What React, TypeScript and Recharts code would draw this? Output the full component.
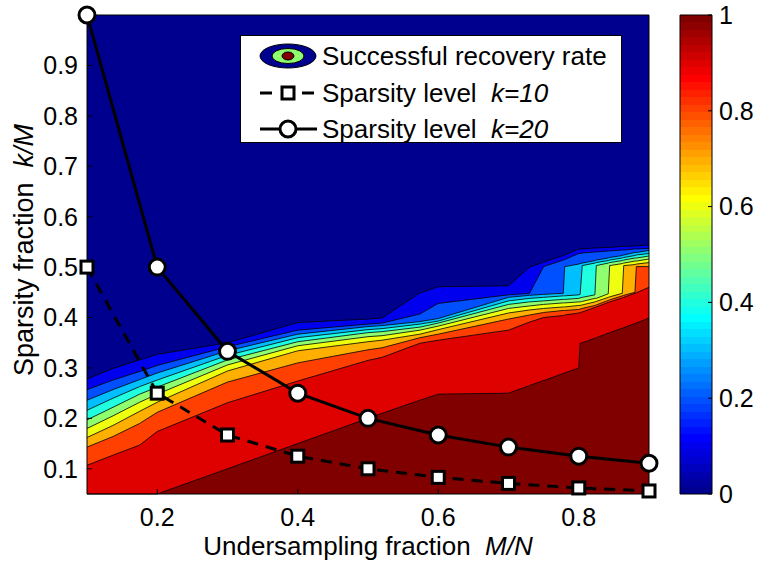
import React from 'react';
import { ComposedChart, Area, Line, XAxis, YAxis, ReferenceLine, BarChart, Bar } from 'recharts';

// undersampling grid M/N and the two sparsity curves k/M
const mnGrid = [0.1, 0.2, 0.3, 0.4, 0.5, 0.6, 0.7, 0.8, 0.9];
const sparsityK10 = [0.5, 0.25, 0.167, 0.125, 0.1, 0.083, 0.071, 0.062, 0.056];
const sparsityK20 = [1.0, 0.5, 0.333, 0.25, 0.2, 0.167, 0.143, 0.125, 0.111];

// contour boundaries (k/M where recovery rate crosses each level), read along M/N
const contourX = [0.1, 0.137, 0.175, 0.2, 0.3, 0.4, 0.5, 0.52, 0.574, 0.6, 0.7, 0.73, 0.75, 0.778, 0.78, 0.8, 0.802, 0.805, 0.823, 0.825, 0.842, 0.844, 0.862, 0.864, 0.88, 0.882, 0.9];
const level01 = [0.278, 0.299, 0.316, 0.327, 0.35, 0.39, 0.397, 0.399, 0.449, 0.461, 0.463, 0.5, 0.51, 0.523, 0.524, 0.536, 0.536, 0.536, 0.538, 0.538, 0.539, 0.539, 0.541, 0.541, 0.542, 0.542, 0.544];
const level02 = [0.257, 0.276, 0.293, 0.305, 0.342, 0.375, 0.387, 0.389, 0.407, 0.428, 0.445, 0.448, 0.501, 0.514, 0.515, 0.527, 0.527, 0.528, 0.53, 0.53, 0.532, 0.532, 0.534, 0.534, 0.536, 0.536, 0.537];
const level03 = [0.236, 0.257, 0.277, 0.29, 0.334, 0.367, 0.382, 0.384, 0.392, 0.398, 0.44, 0.444, 0.446, 0.448, 0.501, 0.506, 0.507, 0.508, 0.513, 0.514, 0.518, 0.519, 0.523, 0.524, 0.529, 0.529, 0.533];
const level04 = [0.216, 0.24, 0.263, 0.276, 0.325, 0.36, 0.376, 0.378, 0.387, 0.393, 0.433, 0.438, 0.44, 0.443, 0.443, 0.445, 0.446, 0.503, 0.508, 0.509, 0.513, 0.514, 0.518, 0.519, 0.523, 0.524, 0.527];
const level05 = [0.197, 0.222, 0.248, 0.262, 0.316, 0.352, 0.37, 0.372, 0.381, 0.389, 0.426, 0.431, 0.433, 0.436, 0.436, 0.438, 0.439, 0.44, 0.445, 0.503, 0.508, 0.509, 0.513, 0.514, 0.518, 0.518, 0.522];
const level06 = [0.18, 0.205, 0.232, 0.248, 0.306, 0.344, 0.362, 0.364, 0.375, 0.383, 0.418, 0.423, 0.426, 0.429, 0.429, 0.431, 0.431, 0.432, 0.438, 0.438, 0.447, 0.503, 0.507, 0.508, 0.512, 0.512, 0.516];
const level07 = [0.162, 0.186, 0.214, 0.232, 0.294, 0.334, 0.352, 0.355, 0.367, 0.376, 0.409, 0.415, 0.418, 0.421, 0.421, 0.424, 0.424, 0.425, 0.431, 0.432, 0.44, 0.441, 0.448, 0.503, 0.505, 0.506, 0.509];
const level08 = [0.143, 0.164, 0.19, 0.212, 0.272, 0.31, 0.336, 0.34, 0.36, 0.367, 0.397, 0.405, 0.41, 0.414, 0.414, 0.416, 0.417, 0.418, 0.424, 0.425, 0.434, 0.435, 0.443, 0.444, 0.45, 0.501, 0.501];
const level09 = [0.107, 0.127, 0.147, 0.174, 0.231, 0.274, 0.315, 0.321, 0.349, 0.355, 0.375, 0.391, 0.4, 0.404, 0.405, 0.409, 0.41, 0.411, 0.42, 0.421, 0.43, 0.431, 0.439, 0.44, 0.448, 0.449, 0.46];
const level10 = [0.05, 0.05, 0.05, 0.05, 0.1, 0.15, 0.2, 0.21, 0.236, 0.248, 0.25, 0.265, 0.275, 0.289, 0.29, 0.3, 0.349, 0.35, 0.359, 0.36, 0.369, 0.37, 0.379, 0.38, 0.388, 0.389, 0.399];

const levelValues = [0, 0.1, 0.2, 0.3, 0.4, 0.5, 0.6, 0.7, 0.8, 0.9, 1.0];
const levelBounds = [contourX.map(() => 1), level01, level02, level03, level04, level05, level06, level07, level08, level09, level10];

const xTicks = [0.2, 0.4, 0.6, 0.8];
const yTicks = [0.1, 0.2, 0.3, 0.4, 0.5, 0.6, 0.7, 0.8, 0.9];
const colorbarTicks = [0, 0.2, 0.4, 0.6, 0.8, 1];

const FONT = '"Liberation Sans", Arial, Helvetica, sans-serif';

// matlab jet(64)
function jet64(k: number) {
  let r = 0, g = 0, b = 0;
  if (k <= 24) r = 0; else if (k <= 40) r = (k - 24) / 16; else if (k <= 56) r = 1; else r = 1 - (k - 56) / 16;
  if (k <= 8) g = 0; else if (k <= 24) g = (k - 8) / 16; else if (k <= 40) g = 1; else if (k <= 56) g = 1 - (k - 40) / 16; else g = 0;
  if (k <= 8) b = (k + 8) / 16; else if (k <= 24) b = 1; else if (k <= 40) b = 1 - (k - 24) / 16; else b = 0;
  const h = (v: number) => Math.round(v * 255).toString(16).padStart(2, '0');
  return `#${h(r)}${h(g)}${h(b)}`;
}
const levelColor = (v: number) => jet64(Math.min(64, Math.floor(v * 64) + 1));

const tableData = contourX.map((x, i) => {
  const row: Record<string, number | null> = { x };
  levelBounds.forEach((arr, j) => { row[`l${j}`] = arr[i]; });
  const gi = mnGrid.findIndex((m) => Math.abs(m - x) < 1e-9);
  row.k10 = gi >= 0 ? sparsityK10[gi] : null;
  row.k20 = gi >= 0 ? sparsityK20[gi] : null;
  return row;
});

const colorbarData = [{ name: 'rate', value: 1 }];

const renderSquare = (props: any) => {
  const { cx, cy, index, value } = props;
  if (cx == null || cy == null || value == null) return <g key={`s${index}`} />;
  return <rect key={`s${index}`} x={cx - 6} y={cy - 6} width={12} height={12} fill="#fff" stroke="#000" strokeWidth={3} />;
};
const renderCircle = (props: any) => {
  const { cx, cy, index, value } = props;
  if (cx == null || cy == null || value == null) return <g key={`c${index}`} />;
  return <circle key={`c${index}`} cx={cx} cy={cy} r={8} fill="#fff" stroke="#000" strokeWidth={3} />;
};

const tickStyle = { fill: '#000', fontSize: 25, fontFamily: FONT };

export default function App() {
  return (
    <div style={{ position: 'relative', width: 759, height: 561, background: '#fff', fontFamily: FONT, color: '#000' }}>
      <style>{'body{margin:0}'}</style>
      <div style={{ position: 'absolute', left: 0, top: 0 }}>
        <ComposedChart width={759} height={561} data={tableData} margin={{ top: 15, right: 110, bottom: 0, left: 0 }}>
          <XAxis
            type="number"
            dataKey="x"
            domain={[0.1, 0.9]}
            ticks={xTicks}
            height={67}
            tickSize={-5}
            tickMargin={19}
            tick={tickStyle}
            axisLine={{ stroke: '#000' }}
            tickLine={{ stroke: '#000' }}
          />
          <YAxis
            type="number"
            domain={[0.05, 1]}
            ticks={yTicks}
            width={87}
            tickSize={-5}
            tickMargin={14}
            tick={tickStyle}
            axisLine={{ stroke: '#000' }}
            tickLine={{ stroke: '#000' }}
          />
          {levelValues.map((v, j) => (
            <Area
              key={`l${j}`}
              type="linear"
              dataKey={`l${j}`}
              fill={levelColor(v)}
              fillOpacity={1}
              stroke={j === 0 ? 'none' : '#000'}
              strokeWidth={0.8}
              dot={false}
              activeDot={false}
              isAnimationActive={false}
            />
          ))}
          <ReferenceLine y={1} stroke="#000" />
          <ReferenceLine x={0.9} stroke="#000" />
          <Line
            type="linear"
            dataKey="k10"
            stroke="#000"
            strokeWidth={3}
            strokeDasharray="11 8"
            connectNulls
            dot={renderSquare}
            activeDot={false}
            isAnimationActive={false}
          />
          <Line
            type="linear"
            dataKey="k20"
            stroke="#000"
            strokeWidth={3}
            connectNulls
            dot={renderCircle}
            activeDot={false}
            isAnimationActive={false}
          />
        </ComposedChart>
      </div>

      <div style={{ position: 'absolute', left: 0, top: 0 }}>
        <BarChart width={759} height={561} data={colorbarData} margin={{ top: 15, right: 0, bottom: 67, left: 680 }} barCategoryGap={0}>
          <defs>
            <linearGradient id="jetGrad" x1="0" y1="1" x2="0" y2="0">
              {Array.from({ length: 64 }).flatMap((_, i) => [
                <stop key={`a${i}`} offset={i / 64} stopColor={jet64(i + 1)} />,
                <stop key={`b${i}`} offset={(i + 1) / 64} stopColor={jet64(i + 1)} />,
              ])}
            </linearGradient>
          </defs>
          <XAxis dataKey="name" hide />
          <YAxis
            orientation="right"
            type="number"
            domain={[0, 1]}
            ticks={colorbarTicks}
            width={47}
            tickSize={-4}
            tickMargin={11}
            tick={tickStyle}
            axisLine={false}
            tickLine={{ stroke: '#000' }}
          />
          <Bar dataKey="value" fill="url(#jetGrad)" stroke="#000" strokeWidth={1} isAnimationActive={false} />
        </BarChart>
      </div>

      <div style={{ position: 'absolute', left: 368, top: 546, transform: 'translate(-50%, -50%)', fontSize: 26, lineHeight: '28px', whiteSpace: 'pre' }}>
        {'Undersampling fraction  '}<i>M/N</i>
      </div>
      <div style={{ position: 'absolute', left: 24, top: 250, transform: 'translate(-50%, -50%) rotate(-90deg)', fontSize: 27, lineHeight: '30px', whiteSpace: 'pre' }}>
        {'Sparsity fraction  '}<i>k/M</i>
      </div>

      <div style={{ position: 'absolute', left: 240, top: 35, width: 382, height: 108, boxSizing: 'border-box', border: '1.5px solid #000', background: '#fff' }}>
        <svg width={80} height={108} style={{ position: 'absolute', left: 0, top: 0 }}>
          <ellipse cx={47} cy={20} rx={28} ry={12} fill={levelColor(0)} stroke="#000" strokeWidth={1} />
          <ellipse cx={47} cy={20} rx={16} ry={7.5} fill={levelColor(0.5)} stroke="#000" strokeWidth={1} />
          <ellipse cx={47} cy={20} rx={6} ry={4} fill={levelColor(1)} stroke="#000" strokeWidth={1} />
          <line x1={19} y1={57} x2={76} y2={57} stroke="#000" strokeWidth={3} strokeDasharray="12 9" />
          <rect x={41} y={51} width={12} height={12} fill="#fff" stroke="#000" strokeWidth={3} />
          <line x1={19} y1={93} x2={76} y2={93} stroke="#000" strokeWidth={3} />
          <circle cx={47} cy={93} r={8} fill="#fff" stroke="#000" strokeWidth={3} />
        </svg>
        {[
          ['Successful recovery rate', ''],
          ['Sparsity level  ', 'k=10'],
          ['Sparsity level  ', 'k=20'],
        ].map(([t, it], i) => (
          <div key={i} style={{ position: 'absolute', left: 81, top: [20, 57, 93][i] - 16, height: 32, lineHeight: '32px', fontSize: 26, whiteSpace: 'pre' }}>
            {t}{it && <i>{it}</i>}
          </div>
        ))}
      </div>
    </div>
  );
}
